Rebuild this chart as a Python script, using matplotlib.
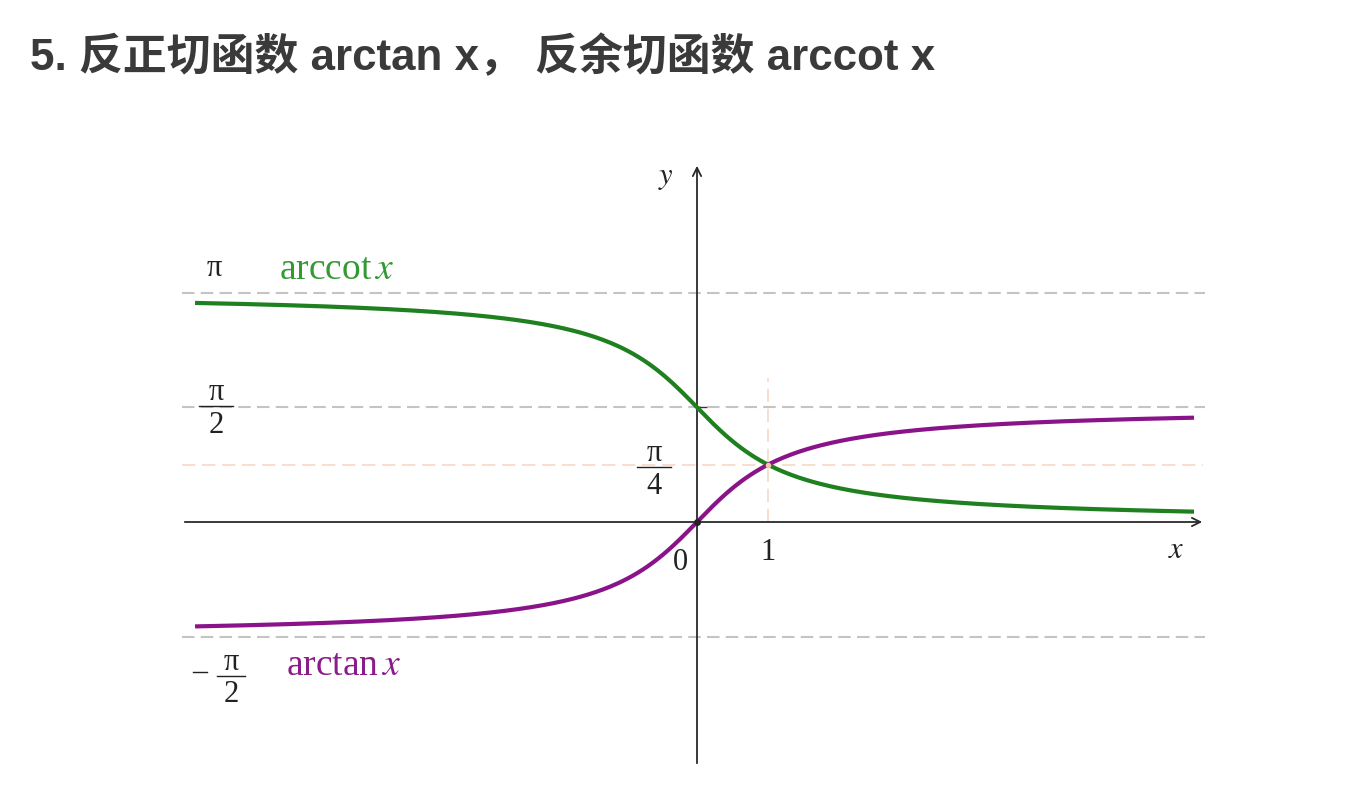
import numpy as np
import matplotlib.pyplot as plt

plt.rcParams['mathtext.fontset'] = 'stix'

# curve data
x_vals = np.linspace(-7.07, 7.0, 400)
arctan_vals = np.arctan(x_vals)
arccot_vals = np.pi / 2 - np.arctan(x_vals)

# reference levels
gray_levels = [np.pi, np.pi / 2, -np.pi / 2]
quarter = np.pi / 4

title_text = "5. 反正切函数 arctan x， 反余切函数 arccot x"

X0, Y0, SX, SY = 697, 522, 71, 73.0


def px(xp):
    return (xp - X0) / SX


def py(yp):
    return (Y0 - yp) / SY


fig = plt.figure(figsize=(13.52, 7.86), dpi=100)
ax = fig.add_axes([0, 0, 1, 1])
ax.set_xlim(px(0), px(1352))
ax.set_ylim(py(786), py(0))
ax.axis('off')

green = '#1e801e'
purple = '#8a138a'
tc = '#222222'
serif = 'Liberation Serif'

# dashed guides
for lv in gray_levels:
    ax.plot([px(182), px(1205)], [lv, lv], color='#c4c4c4', lw=1.5, dashes=(6, 3), zorder=1)
ax.plot([px(182), px(1203)], [quarter, quarter], color='#f6d8c6', lw=1.2, dashes=(8, 4), zorder=1)
ax.plot([1, 1], [0, py(378)], color='#f6d8c6', lw=1.2, dashes=(8, 4), zorder=1)

# axes with arrows
ax.annotate('', xy=(px(1205), 0), xytext=(px(182), 0),
            arrowprops=dict(arrowstyle='->', color='#2a2a2a', lw=1.3, mutation_scale=15), zorder=2)
ax.annotate('', xy=(0, py(163)), xytext=(0, py(766)),
            arrowprops=dict(arrowstyle='->', color='#2a2a2a', lw=1.3, mutation_scale=15), zorder=2)
ax.plot([0, 0.12], [np.pi / 2, np.pi / 2], color='#333333', lw=1.0, zorder=2)

# curves
ax.plot(x_vals, arccot_vals, color=green, lw=3, solid_capstyle='butt', zorder=3)
ax.plot(x_vals, arctan_vals, color=purple, lw=3, solid_capstyle='butt', zorder=3)
ax.plot([0], [0], 'o', color='#222222', ms=4, zorder=4)
ax.plot([1], [quarter], 'o', color='#f0c8a8', ms=3, zorder=4)


def frac(xc, ybar, den, half):
    ax.text(px(xc), py(ybar - 14), 'π', fontsize=22, color=tc, ha='center', va='center', family=serif)
    ax.plot([px(xc - half), px(xc + half)], [py(ybar), py(ybar)], color=tc, lw=1.0)
    ax.text(px(xc), py(ybar + 19), den, fontsize=22, color=tc, ha='center', va='center', family=serif)


# labels
ax.text(px(214), py(268), 'π', fontsize=22, color=tc, ha='center', va='center', family=serif)
frac(216, 406, '2', 17)
frac(654, 467, '4', 17)
frac(231, 676, '2', 14)
ax.plot([px(193), px(207)], [py(672), py(672)], color=tc, lw=1.0)
ax.text(px(680), py(563), '0', fontsize=22, color=tc, ha='center', va='center', family=serif)
ax.text(px(768), py(553), '1', fontsize=22, color=tc, ha='center', va='center', family=serif)
ax.text(px(666), py(178), r'$y$', fontsize=22, color=tc, ha='center', va='center')
ax.text(px(1176), py(549), r'$x$', fontsize=22, color=tc, ha='center', va='center')

ax.text(px(279), py(270), r'arccot$\,x$', fontsize=27, color='#339933',
        ha='left', va='center', family=serif)
ax.text(px(286), py(666), r'arctan$\,x$', fontsize=27, color='#8b1a8b',
        ha='left', va='center', family=serif)

fig.text(30 / 1352, 1 - 57 / 786, title_text, fontsize=31.6, fontweight='bold', color='#3a3a3a',
         ha='left', va='center', family=['Liberation Sans', 'Noto Sans CJK SC'])

fig.savefig('out.png', dpi=100)
